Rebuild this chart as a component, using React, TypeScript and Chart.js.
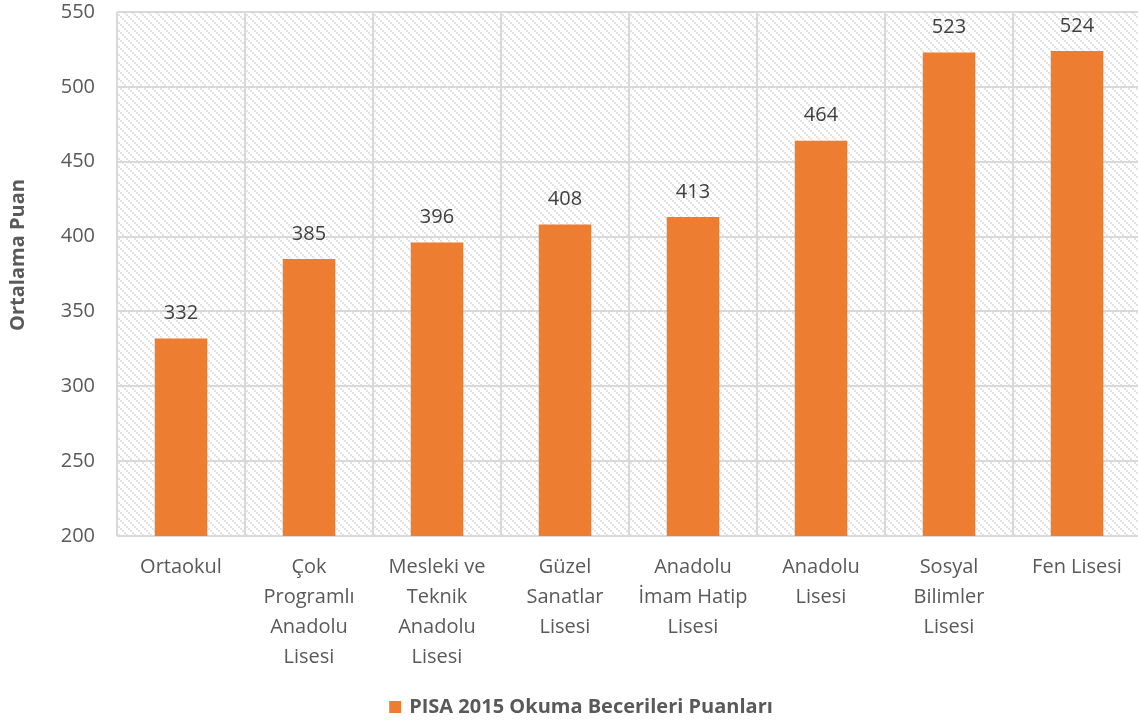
import React, { useEffect, useRef } from "react";
import { Chart, registerables } from "chart.js";

Chart.register(...registerables);

const categories: (string | string[])[] = [
  "Ortaokul",
  ["Çok", "Programlı", "Anadolu", "Lisesi"],
  ["Mesleki ve", "Teknik", "Anadolu", "Lisesi"],
  ["Güzel", "Sanatlar", "Lisesi"],
  ["Anadolu", "İmam Hatip", "Lisesi"],
  ["Anadolu", "Lisesi"],
  ["Sosyal", "Bilimler", "Lisesi"],
  "Fen Lisesi",
];
const scores = [332, 385, 396, 408, 413, 464, 523, 524];
const seriesName = "PISA 2015 Okuma Becerileri Puanları";
const yTitle = "Ortalama Puan";
const yMin = 200;
const yMax = 550;
const yStep = 50;

const FONT = "'Open Sans', sans-serif";
const BAR = "#ED7D31";
const GRID = "#d9d9d9";
const TICK = "#595959";

function makePattern(ctx: CanvasRenderingContext2D): CanvasPattern | string {
  const c = document.createElement("canvas");
  const size = 8;
  c.width = size;
  c.height = size;
  const p = c.getContext("2d");
  if (!p) return "#fff";
  p.fillStyle = "#ffffff";
  p.fillRect(0, 0, size, size);
  p.fillStyle = "#e2e2e2";
  for (let i = 0; i < size; i += 2) {
    p.fillRect(i, i, 2, 2);
  }
  return ctx.createPattern(c, "repeat") || "#fff";
}

const decorPlugin = {
  id: "decor",
  beforeDraw(chart: any) {
    const { ctx, chartArea } = chart;
    ctx.save();
    ctx.fillStyle = "#ffffff";
    ctx.fillRect(0, 0, chart.width, chart.height);
    ctx.fillStyle = makePattern(ctx);
    ctx.fillRect(chartArea.left, chartArea.top, chartArea.right - chartArea.left, chartArea.bottom - chartArea.top);
    ctx.restore();
  },
  afterDatasetsDraw(chart: any) {
    const { ctx } = chart;
    const meta = chart.getDatasetMeta(0);
    ctx.save();
    ctx.font = `20px ${FONT}`;
    ctx.fillStyle = "#404040";
    ctx.textAlign = "center";
    ctx.textBaseline = "middle";
    meta.data.forEach((el: any, i: number) => {
      ctx.fillText(String(chart.data.datasets[0].data[i]), el.x, el.y - 25);
    });
    ctx.restore();
  },
  afterDraw(chart: any) {
    const { ctx } = chart;
    ctx.save();
    ctx.translate(18, 255);
    ctx.rotate(-Math.PI / 2);
    ctx.font = `bold 20px ${FONT}`;
    ctx.fillStyle = TICK;
    ctx.textAlign = "center";
    ctx.textBaseline = "middle";
    ctx.fillText(yTitle, 0, 0);
    ctx.restore();
    ctx.save();
    ctx.font = `bold 20px ${FONT}`;
    const tw = ctx.measureText(seriesName).width;
    const total = 12 + 8 + tw;
    const cx = 581;
    const x0 = cx - total / 2;
    const cy = 707;
    ctx.fillStyle = BAR;
    ctx.fillRect(x0, cy - 6, 12, 12);
    ctx.fillStyle = TICK;
    ctx.textAlign = "left";
    ctx.textBaseline = "middle";
    ctx.fillText(seriesName, x0 + 20, cy);
    ctx.restore();
  },
};

export default function App() {
  const ref = useRef<HTMLCanvasElement | null>(null);
  useEffect(() => {
    if (!ref.current) return;
    const chart = new Chart(ref.current, {
      type: "bar",
      data: {
        labels: categories,
        datasets: [
          {
            label: seriesName,
            data: scores,
            backgroundColor: BAR,
            borderWidth: 0,
            categoryPercentage: 1,
            barPercentage: 0.41,
          },
        ],
      },
      options: {
        responsive: false,
        animation: false,
        layout: { padding: { left: 0, top: 12, right: 9, bottom: 0 } },
        plugins: {
          legend: { display: false },
          tooltip: { enabled: false },
        },
        scales: {
          x: {
            grid: { color: GRID, lineWidth: 2, drawTicks: false, offset: true },
            border: { display: false },
            ticks: {
              autoSkip: false,
              maxRotation: 0,
              minRotation: 0,
              padding: 16,
              color: TICK,
              font: { family: FONT, size: 20, lineHeight: 1.5 },
            },
            afterFit: (s: any) => {
              s.height = 725 - 536;
              s.paddingLeft = 0;
              s.paddingRight = 0;
            },
          },
          y: {
            min: yMin,
            max: yMax,
            grid: { color: GRID, lineWidth: 2, drawTicks: false },
            border: { display: false },
            ticks: {
              stepSize: yStep,
              padding: 22,
              color: TICK,
              font: { family: FONT, size: 20, lineHeight: 1 },
            },
            afterFit: (s: any) => {
              s.width = 117;
              s.paddingTop = 0;
              s.paddingBottom = 0;
            },
          },
        },
      },
      plugins: [decorPlugin],
    });
    return () => chart.destroy();
  }, []);
  return (
    <div
      style={{
        position: "fixed",
        left: 0,
        top: 0,
        width: 1138,
        height: 725,
        overflow: "hidden",
        background: "#fff",
      }}
    >
      <canvas ref={ref} width={1150} height={725} style={{ width: 1150, height: 725, display: "block" }} />
    </div>
  );
}
